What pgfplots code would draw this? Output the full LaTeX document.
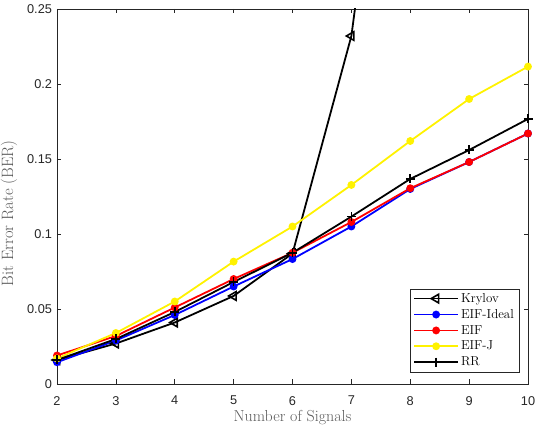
\documentclass[border=0pt]{standalone}
\usepackage{pgfplots}
\pgfplotsset{compat=1.18}
\usepackage{fontspec}
\newfontfamily\ticfont{Liberation Sans}

\definecolor{axgray}{RGB}{38,38,38}
\definecolor{labgray}{RGB}{90,90,90}

\begin{document}
\begin{tikzpicture}[x=1bp,y=1bp]
% fixed page frame around the axis box
\useasboundingbox (-57bp,-42bp) rectangle (482bp,384bp);
\begin{axis}[
  scale only axis,
  width=471bp, height=375bp,
  at={(0,0)}, anchor=south west,
  xmin=2, xmax=10, ymin=0, ymax=0.25,
  xtick={2,3,...,10},
  ytick={0,0.05,0.1,0.15,0.2,0.25},
  yticklabels={0,0.05,0.1,0.15,0.2,0.25},
  tick align=inside,
  major tick length=4.5bp,
  axis line style={axgray, line width=0.6pt},
  every tick/.style={axgray, line width=0.6pt},
  tick label style={font=\ticfont\fontsize{12.8}{14}\selectfont, text=axgray},
  xticklabel style={inner sep=1bp, yshift=-11bp},
  yticklabel style={xshift=-1.5bp},
  /pgf/number format/assume math mode=true,
  xlabel={Number of Signals},
  ylabel={Bit Error Rate (BER)},
  every axis x label/.style={font=\fontsize{16}{18}\selectfont, text=labgray,
    inner sep=1bp, at={(axis description cs:0.5,0)}, anchor=base, yshift=-37bp},
  every axis y label/.style={font=\fontsize{16.5}{18}\selectfont, text=labgray,
    inner sep=1bp, at={(axis description cs:-0.0934,0.455)}, rotate=90, anchor=base},
  clip=true,
  legend cell align=left,
  legend style={at={(0.981,0.032)}, anchor=south east,
    font=\fontsize{13}{15}\selectfont,
    draw=axgray, line width=0.5pt, inner xsep=3pt, inner ysep=2.5pt,
    row sep=1.5bp},
  legend image code/.code={
    \draw[mark repeat=2,mark phase=2] plot coordinates {(0bp,0bp) (22bp,0bp) (44bp,0bp)};
  },
]
% Krylov
\addplot[black, line width=1.8pt, mark=triangle, mark size=5bp,
  mark options={rotate=90, solid, fill=white, line width=1.6pt}]
  coordinates {(2,0.016) (3,0.027) (4,0.041) (5,0.0587) (6,0.087) (7,0.232) (8,0.53)};
\addlegendentry{Krylov}
% EIF-Ideal
\addplot[blue, line width=1.8pt, mark=*, mark size=3bp]
  coordinates {(2,0.0145) (3,0.029) (4,0.046) (5,0.065) (6,0.0833) (7,0.105) (8,0.130) (9,0.148) (10,0.167)};
\addlegendentry{EIF-Ideal}
% EIF
\addplot[red, line width=1.8pt, mark=*, mark size=3bp]
  coordinates {(2,0.019) (3,0.032) (4,0.051) (5,0.070) (6,0.0875) (7,0.108) (8,0.1305) (9,0.148) (10,0.167)};
\addlegendentry{EIF}
% EIF-J
\addplot[yellow, line width=1.8pt, mark=*, mark size=3bp]
  coordinates {(2,0.017) (3,0.034) (4,0.055) (5,0.0816) (6,0.105) (7,0.1327) (8,0.162) (9,0.190) (10,0.2116)};
\addlegendentry{EIF-J}
% RR
\addplot[black, line width=1.8pt, mark=+, mark size=4.5bp,
  mark options={line width=1.6pt}]
  coordinates {(2,0.016) (3,0.030) (4,0.048) (5,0.068) (6,0.0875) (7,0.1116) (8,0.1367) (9,0.156) (10,0.1767)};
\addlegendentry{RR}
\end{axis}
\end{tikzpicture}
\end{document}
